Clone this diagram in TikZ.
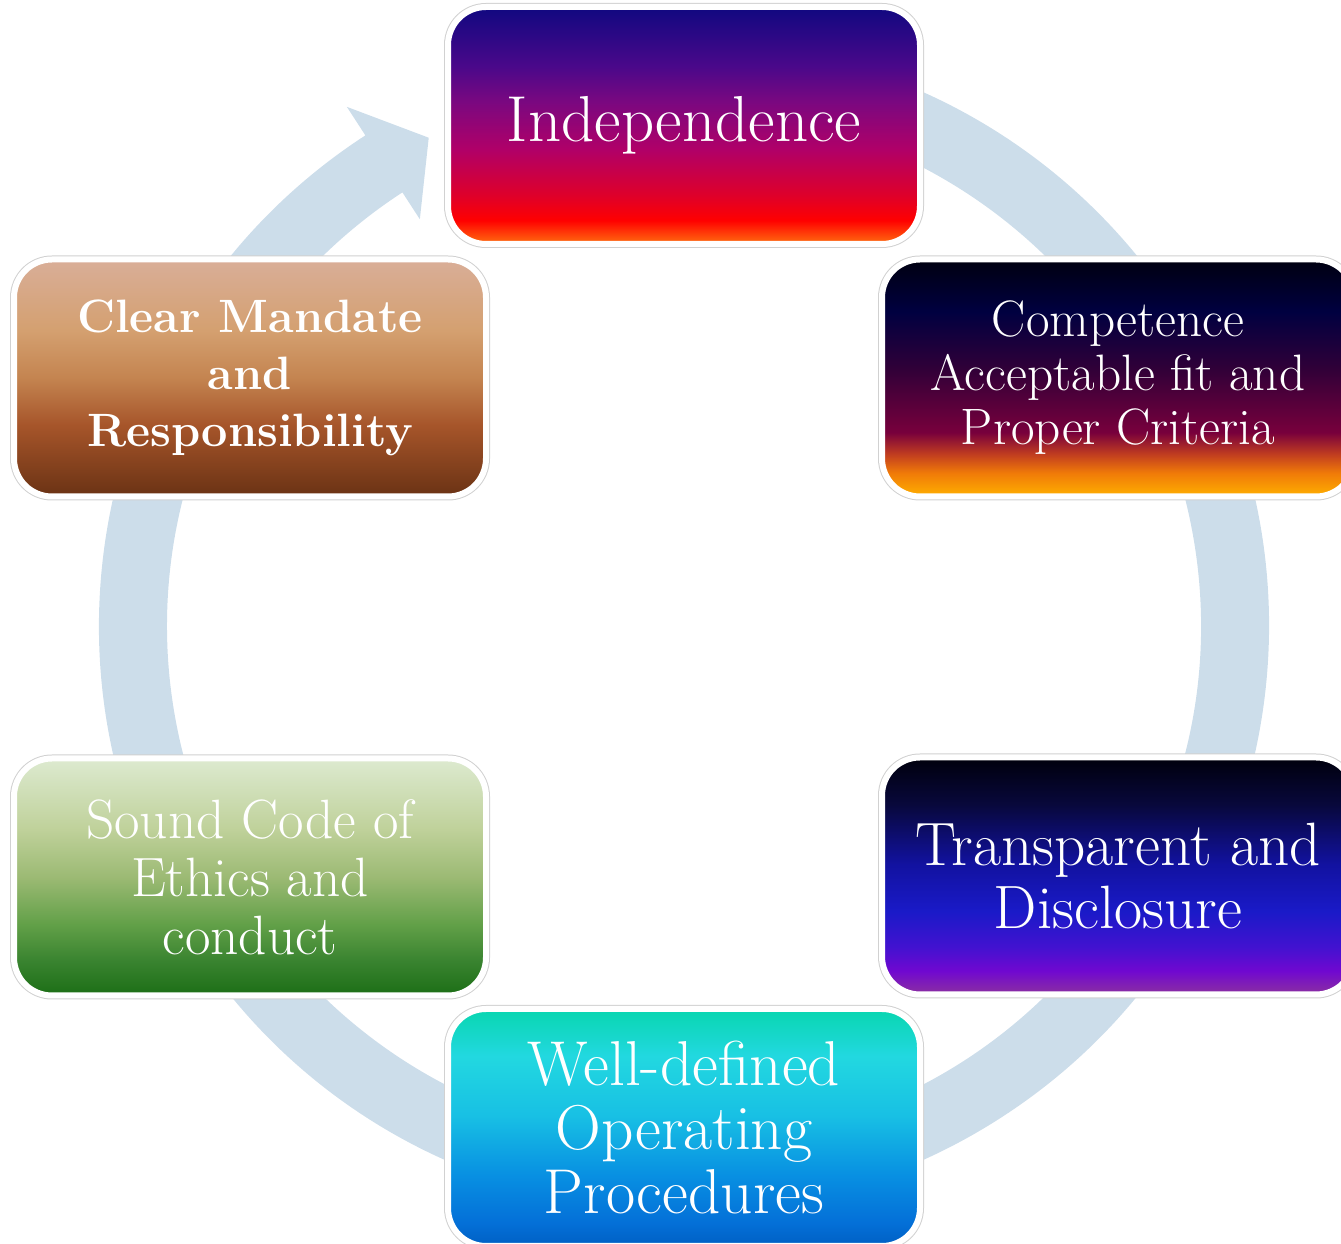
\documentclass[tikz,border=0pt]{standalone}
\usepackage{fontspec}
\definecolor{ringc}{RGB}{204,221,234}
% Independence
\definecolor{iA}{HTML}{100880}\definecolor{iB}{HTML}{4A088A}\definecolor{iC}{HTML}{7A0880}
\definecolor{iD}{HTML}{B00068}\definecolor{iE}{HTML}{E00028}\definecolor{iF}{HTML}{FF0000}\definecolor{iG}{HTML}{FF7010}
\pgfdeclareverticalshading{shIndep}{100bp}{color(0bp)=(iG); color(25bp)=(iG); color(30bp)=(iF); color(35bp)=(iE); color(45bp)=(iD); color(55bp)=(iC); color(62.5bp)=(iB); color(75bp)=(iA); color(100bp)=(iA)}
% Competence
\definecolor{cA}{HTML}{000010}\definecolor{cB}{HTML}{000040}\definecolor{cC}{HTML}{300038}
\definecolor{cD}{HTML}{78003C}\definecolor{cE}{HTML}{C03C20}\definecolor{cF}{HTML}{F07A08}\definecolor{cG}{HTML}{FFB000}
\pgfdeclareverticalshading{shComp}{100bp}{color(0bp)=(cG); color(25bp)=(cG); color(30bp)=(cF); color(34bp)=(cE); color(38.5bp)=(cD); color(52bp)=(cC); color(64bp)=(cB); color(75bp)=(cA); color(100bp)=(cA)}
% Mandate
\definecolor{mA}{HTML}{D9AE98}\definecolor{mB}{HTML}{D4A070}\definecolor{mC}{HTML}{C48450}
\definecolor{mD}{HTML}{A6552A}\definecolor{mE}{HTML}{6A3214}
\pgfdeclareverticalshading{shMand}{100bp}{color(0bp)=(mE); color(25bp)=(mE); color(40bp)=(mD); color(50bp)=(mC); color(60bp)=(mB); color(75bp)=(mA); color(100bp)=(mA)}
% Ethics
\definecolor{eA}{HTML}{DDEAD0}\definecolor{eB}{HTML}{BFD19A}\definecolor{eC}{HTML}{9CBA74}
\definecolor{eD}{HTML}{62A048}\definecolor{eE}{HTML}{3A8430}\definecolor{eF}{HTML}{1C6E16}
\pgfdeclareverticalshading{shEth}{100bp}{color(0bp)=(eF); color(25bp)=(eF); color(32.5bp)=(eE); color(40bp)=(eD); color(50bp)=(eC); color(60bp)=(eB); color(75bp)=(eA); color(100bp)=(eA)}
% Transparent
\definecolor{tA}{HTML}{00000C}\definecolor{tB}{HTML}{08083C}\definecolor{tC}{HTML}{1212A0}
\definecolor{tD}{HTML}{1A1AC8}\definecolor{tE}{HTML}{4212D0}\definecolor{tF}{HTML}{7008D0}\definecolor{tG}{HTML}{8C30A0}
\pgfdeclareverticalshading{shTransp}{100bp}{color(0bp)=(tG); color(25bp)=(tG); color(30bp)=(tF); color(35bp)=(tE); color(42.5bp)=(tD); color(52.5bp)=(tC); color(65bp)=(tB); color(75bp)=(tA); color(100bp)=(tA)}
% Procedures
\definecolor{pA}{HTML}{08D6B0}\definecolor{pB}{HTML}{22D8E0}\definecolor{pC}{HTML}{18C0E4}
\definecolor{pD}{HTML}{0890E2}\definecolor{pE}{HTML}{0470D8}\definecolor{pF}{HTML}{0060C4}
\pgfdeclareverticalshading{shProc}{100bp}{color(0bp)=(pF); color(25bp)=(pF); color(30bp)=(pE); color(40bp)=(pD); color(52.5bp)=(pC); color(65bp)=(pB); color(75bp)=(pA); color(100bp)=(pA)}
\begin{document}
\begin{tikzpicture}[x=0.5pt,y=0.5pt,
  box/.style={minimum width=236pt, minimum height=118.5pt, inner sep=0pt,
    rounded corners=19pt, draw=white, line width=3pt, text=white, align=center,
    preaction={draw=black!18, line width=4pt}},
]
\useasboundingbox (0,0) rectangle (1341,1244);
% ring with arrow head
\begin{scope}[shift={(684,618)}]
\fill[ringc] (123:585) arc[start angle=123, end angle=460, radius=585]
  -- (460:517) arc[start angle=460, end angle=123, radius=517]
  -- (123:485) -- (117.6:551) -- (123:619) -- cycle;
\end{scope}
\node[box, shading=shIndep, font=\fontsize{32.5pt}{36pt}\selectfont] (indep) at (684,1118.5)
  {Independence};
\node[box, shading=shComp, font=\fontsize{25.6pt}{27pt}\selectfont] (comp) at (1118,866)
  {Competence\\Acceptable fit and\\Proper Criteria};
\node[box, shading=shMand, font=\fontsize{23.4pt}{28.5pt}\selectfont\bfseries] (mand) at (250,866)
  {Clear Mandate\\and\\Responsibility};
\node[box, shading=shEth, font=\fontsize{27.7pt}{29pt}\selectfont] (ethics) at (250,367)
  {Sound Code of\\Ethics and\\conduct};
\node[box, shading=shTransp, font=\fontsize{30.6pt}{31.5pt}\selectfont] (transp) at (1118,368)
  {Transparent and\\Disclosure};
\node[box, shading=shProc, font=\fontsize{31.7pt}{32pt}\selectfont] (proc) at (684,116.5)
  {Well-defined\\Operating\\Procedures};
\end{tikzpicture}
\end{document}
